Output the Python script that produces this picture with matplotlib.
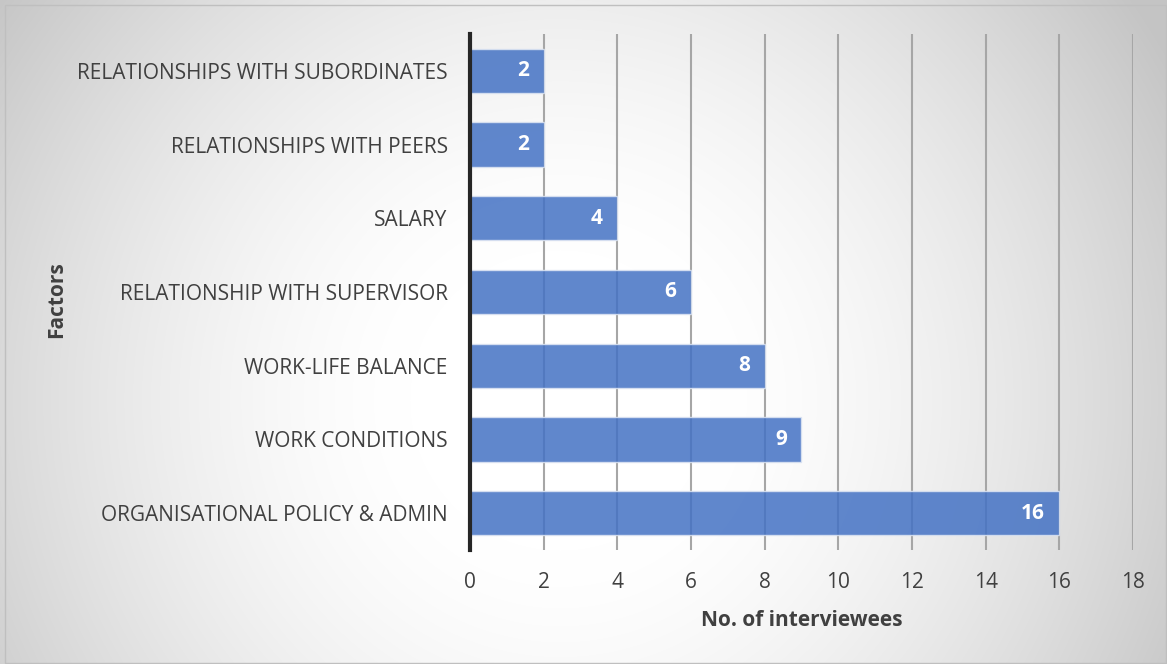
import matplotlib
matplotlib.use("Agg")
import matplotlib.pyplot as plt
import numpy as np

plt.rcParams['font.family'] = ['Open Sans', 'DejaVu Sans']

# data (bottom to top as drawn)
factors = ["ORGANISATIONAL POLICY & ADMIN", "WORK CONDITIONS", "WORK-LIFE BALANCE",
           "RELATIONSHIP WITH SUPERVISOR", "SALARY", "RELATIONSHIPS WITH PEERS",
           "RELATIONSHIPS WITH SUBORDINATES"]
counts = [16, 9, 8, 6, 4, 2, 2]
x_ticks = [0, 2, 4, 6, 8, 10, 12, 14, 16, 18]

fig = plt.figure(figsize=(11.67, 6.64), dpi=100)

# radial gradient background, white in the middle, grey at the corners
bg = fig.add_axes([0, 0, 1, 1], zorder=-10)
h, w = 664, 1167
yy, xx = np.mgrid[0:h, 0:w]
d = np.sqrt((xx - 560.0) ** 2 + (yy - 400.0) ** 2)
t = np.clip((d - 150) / 550.0, 0, 1) ** 1.5
shade = 1.0 - 0.23 * t
bg.imshow(np.dstack([shade, shade, shade]), aspect='auto', extent=[0, w, h, 0])
bg.set_xlim(0, w)
bg.set_ylim(h, 0)
bg.add_patch(plt.Rectangle((5, 5), w - 6, h - 6, fill=False, edgecolor='#bfbfbf', lw=1))
bg.axis('off')

ax = fig.add_axes([0.4027, 0.1717, 0.5682, 0.7771])
ax.patch.set_alpha(0)
y = np.arange(len(factors))
ax.barh(y, counts, height=0.6, color='#4472c4', alpha=0.85,
        edgecolor='#dce4f2', linewidth=1, zorder=3)
for yi, v in zip(y, counts):
    ax.text(v - 0.4, yi, str(v), color='white', fontweight='bold', fontsize=15,
            ha='right', va='center', zorder=4)

ax.set_xlim(0, 18)
ax.set_ylim(-0.5, len(factors) - 0.5)
ax.set_xticks(x_ticks)
ax.set_yticks(y)
ax.set_yticklabels(factors)
ax.tick_params(axis='both', length=0, labelsize=15, colors='#404040')
ax.tick_params(axis='x', pad=16)
ax.tick_params(axis='y', pad=16)
ax.grid(axis='x', color='#a6a6a6', linewidth=1.5, zorder=1)
for s in ['top', 'right', 'bottom']:
    ax.spines[s].set_visible(False)
ax.spines['left'].set_color('#262626')
ax.spines['left'].set_linewidth(3)
ax.spines['left'].set_zorder(5)

ax.set_xlabel("No. of interviewees", fontsize=15, fontweight='bold', color='#404040', labelpad=12)
fig.text(57 / w, 1 - 300 / h, "Factors", rotation=90, fontsize=15, fontweight='bold',
         color='#404040', ha='center', va='center')

fig.savefig('out.png', dpi=100)
